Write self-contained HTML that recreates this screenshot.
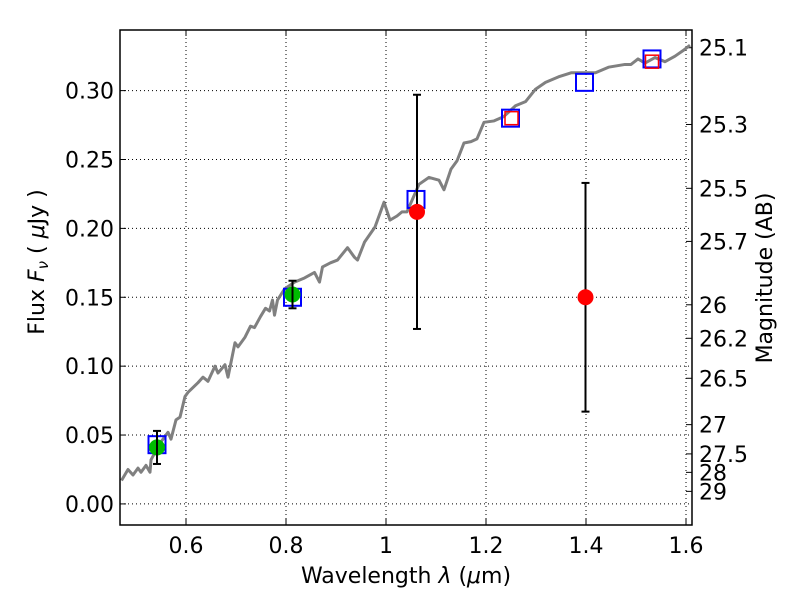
<!DOCTYPE html>
<html><head><meta charset="utf-8"><style>
body{margin:0;background:#fff;}
svg{display:block;font-family:"DejaVu Sans","Liberation Sans",sans-serif;}
</style></head><body>
<svg id="chart" width="800" height="600" viewBox="0 0 800 600"></svg>
<script>
const specLam=[0.471,0.484,0.494,0.504,0.510,0.520,0.528,0.530,0.548,0.564,0.570,0.580,0.588,0.598,0.604,0.624,0.634,0.644,0.658,0.664,0.678,0.684,0.698,0.704,0.718,0.729,0.737,0.749,0.759,0.767,0.773,0.777,0.783,0.797,0.817,0.837,0.857,0.867,0.873,0.889,0.903,0.923,0.937,0.943,0.957,0.978,0.996,1.008,1.022,1.032,1.042,1.066,1.086,1.106,1.116,1.130,1.142,1.156,1.170,1.182,1.196,1.216,1.235,1.259,1.279,1.299,1.319,1.345,1.371,1.391,1.419,1.445,1.478,1.490,1.504,1.518,1.538,1.558,1.578,1.594,1.608];
const specFlux=[0.017,0.025,0.021,0.026,0.023,0.028,0.023,0.032,0.044,0.052,0.047,0.061,0.063,0.078,0.081,0.088,0.092,0.089,0.100,0.095,0.101,0.092,0.117,0.114,0.121,0.129,0.128,0.136,0.142,0.140,0.148,0.137,0.148,0.156,0.161,0.164,0.168,0.161,0.172,0.175,0.177,0.186,0.179,0.177,0.190,0.201,0.219,0.206,0.209,0.212,0.212,0.232,0.237,0.235,0.228,0.243,0.249,0.262,0.263,0.265,0.277,0.278,0.281,0.289,0.292,0.301,0.306,0.310,0.313,0.313,0.313,0.317,0.319,0.319,0.323,0.320,0.324,0.321,0.325,0.329,0.333];
const modelLam=[0.542,0.813,1.060,1.249,1.397,1.532];
const modelFlux=[0.043,0.150,0.221,0.280,0.306,0.323];
const redSqLam=[1.251,1.532];
const redSqFlux=[0.280,0.321];
const greenLam=[0.542,0.813];
const greenFlux=[0.041,0.152];
const greenErr=[0.012,0.010];
const redLam=[1.062,1.399];
const redFlux=[0.212,0.150];
const redErr=[0.085,0.083];
const xTicks=[0.6,0.8,1.0,1.2,1.4,1.6];
const xTickLabels=["0.6","0.8","1","1.2","1.4","1.6"];
const yTicks=[0,0.05,0.10,0.15,0.20,0.25,0.30];
const yTickLabels=["0.00","0.05","0.10","0.15","0.20","0.25","0.30"];
const magTicks=[25.1,25.3,25.5,25.7,26,26.2,26.5,27,27.5,28,29];

const L=120,R=692,T=30,B=525;
const xMin=0.468,xMax=1.612,yMin=-0.0153,yMax=0.344;
const X=v=>L+(v-xMin)/(xMax-xMin)*(R-L);
const Y=v=>B-(v-yMin)/(yMax-yMin)*(B-T);
const svg=document.getElementById('chart');
const NS='http://www.w3.org/2000/svg';
function mk(tag,attrs,parent){const e=document.createElementNS(NS,tag);for(const k in attrs)e.setAttribute(k,attrs[k]);(parent||svg).appendChild(e);return e;}

xTicks.forEach((t,i)=>{
  const g=mk('line',{x1:X(t),x2:X(t),y1:T,y2:B,stroke:'#000','stroke-width':1,'stroke-dasharray':'1,3'});
  
  
  mk('line',{x1:X(t),x2:X(t),y1:B,y2:B-6,stroke:'#000'});
  mk('line',{x1:X(t),x2:X(t),y1:T,y2:T+6,stroke:'#000'});
  const tx=mk('text',{x:X(t),y:B+28,'font-size':22,'text-anchor':'middle'});
  tx.textContent=xTickLabels[i];
  
  
});
yTicks.forEach((t,i)=>{
  const g=mk('line',{x1:L,x2:R,y1:Y(t),y2:Y(t),stroke:'#000','stroke-width':1,'stroke-dasharray':'1,3'});
  
  
  mk('line',{x1:L,x2:L+6,y1:Y(t),y2:Y(t),stroke:'#000'});
  const tx=mk('text',{x:L-6,y:Y(t)+8,'font-size':22,'text-anchor':'end'});
  tx.textContent=yTickLabels[i];
  
  
});
magTicks.forEach(m=>{
  const f=Math.pow(10,(23.9-m)/2.5);
  const y=Y(f);
  mk('line',{x1:R,x2:R-6,y1:y,y2:y,stroke:'#000'});
  const tx=mk('text',{x:R+7,y:y+8,'font-size':22,'text-anchor':'start'});
  tx.textContent=String(m);
  
  
});

const sp=mk('polyline',{points:specLam.map((l,i)=>X(l)+','+Y(specFlux[i])).join(' '),fill:'none',stroke:'#808080','stroke-width':3,'stroke-linejoin':'round'});



function errbar(l,f,e){
  const x=X(l);
  mk('line',{x1:x,x2:x,y1:Y(f+e),y2:Y(f-e),stroke:'#000','stroke-width':2});
  mk('line',{x1:x-4,x2:x+4,y1:Y(f+e),y2:Y(f+e),stroke:'#000','stroke-width':2});
  mk('line',{x1:x-4,x2:x+4,y1:Y(f-e),y2:Y(f-e),stroke:'#000','stroke-width':2});
}
modelLam.forEach((l,i)=>{
  const s=mk('rect',{x:X(l)-8.5,y:Y(modelFlux[i])-8.5,width:17,height:17,fill:'none',stroke:'#0000ff','stroke-width':2});
  
  
});
redSqLam.forEach((l,i)=>{
  const s=mk('rect',{x:X(l)-6.5,y:Y(redSqFlux[i])-6.5,width:13,height:13,fill:'none',stroke:'#ff0000','stroke-width':1.5});
  
  
});
greenLam.forEach((l,i)=>{
  const c=mk('circle',{cx:X(l),cy:Y(greenFlux[i]),r:8,fill:'#00bb00'});
  
  
  errbar(l,greenFlux[i],greenErr[i]);
});
redLam.forEach((l,i)=>{
  errbar(l,redFlux[i],redErr[i]);
  const c=mk('circle',{cx:X(l),cy:Y(redFlux[i]),r:8,fill:'#ff0000'});
  
  
});

const fr=mk('rect',{x:L,y:T,width:R-L,height:B-T,fill:'none',stroke:'#000','stroke-width':1.5});


</script>
<svg style="position:absolute;left:0;top:0" width="800" height="600">
<text x="406" y="583" font-size="22" text-anchor="middle" font-family="DejaVu Sans, Liberation Sans, sans-serif">Wavelength  <tspan font-style="italic">λ</tspan> (<tspan font-style="italic">μ</tspan>m)</text>
<text transform="translate(44,262) rotate(-90)" font-size="22" text-anchor="middle" font-family="DejaVu Sans, Liberation Sans, sans-serif">Flux  <tspan font-style="italic">F</tspan><tspan font-style="italic" font-size="15" dy="4">ν</tspan><tspan dy="-4">  (  </tspan><tspan font-style="italic">μ</tspan>Jy )</text>
<text transform="translate(772,278) rotate(-90)" font-size="22" text-anchor="middle" font-family="DejaVu Sans, Liberation Sans, sans-serif">Magnitude (AB)</text>
</svg>
</body></html>
